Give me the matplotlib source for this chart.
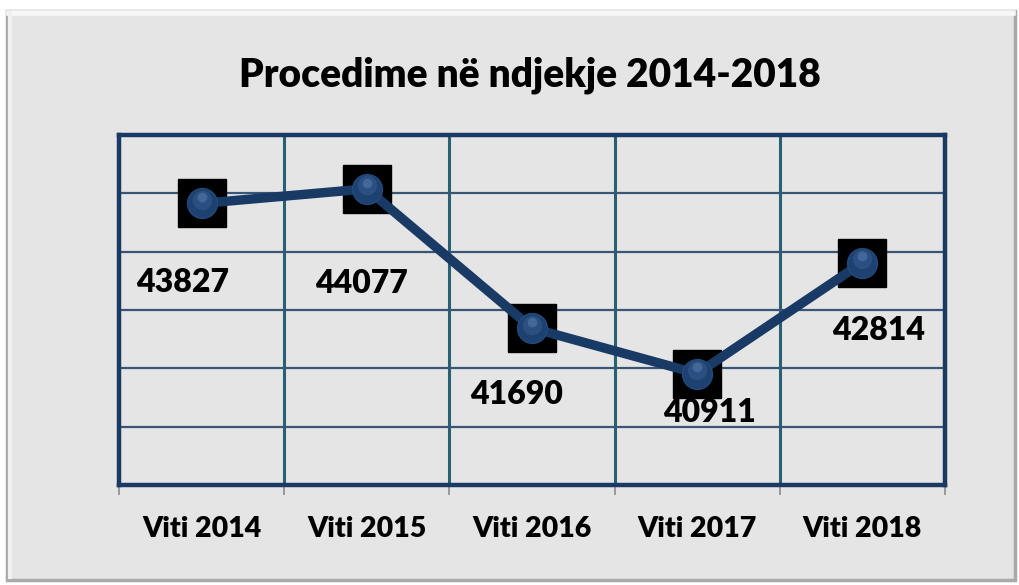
import matplotlib
matplotlib.use("Agg")
import matplotlib.pyplot as plt
import matplotlib.transforms as mtransforms
from matplotlib.patches import Rectangle
import numpy as np

plt.rcParams["font.family"] = ["Lato", "DejaVu Sans"]

years = ["Viti 2014", "Viti 2015", "Viti 2016", "Viti 2017", "Viti 2018"]
cases = [43827, 44077, 41690, 40911, 42814]
title = "Procedime në ndjekje 2014-2018"

# hand-placed data label offsets (points), as in the original chart
label_offsets = [(-14, -57), (-4, -68), (-11, -48), (9, -28), (12, -49)]

navy = "#1B3A63"
line_col = "#1A3A66"
weight = "heavy"

fig = plt.figure(figsize=(10.2, 5.85), dpi=100, facecolor="white")

# grey chart panel with a soft bevel
W, H = 1020, 585
panel = Rectangle((7 / W, 5 / H), 1008 / W, 569 / H, transform=fig.transFigure,
                  facecolor="#E5E5E5", edgecolor="#A9A9A9", linewidth=2.5, zorder=0)
fig.patches.append(panel)
fig.add_artist(plt.Line2D([9 / W, 1013 / W], [572 / H, 572 / H], transform=fig.transFigure,
                          color="#F8F8F8", lw=4, zorder=1))
fig.add_artist(plt.Line2D([10 / W, 10 / W], [8 / H, 572 / H], transform=fig.transFigure,
                          color="#F0F0F0", lw=3, zorder=1))

ax = fig.add_axes([119 / W, 100 / H, 826 / W, 350 / H])
ax.set_zorder(5)
ax.set_facecolor("#E5E5E5")
x = np.arange(len(years))

ax.set_xlim(-0.5, len(years) - 0.5)
ax.set_ylim(39000, 45000)
ax.set_yticks(np.arange(39000, 45001, 1000))
ax.set_yticklabels([])
ax.tick_params(axis="y", length=0)
ax.grid(axis="y", color="#3A5676", lw=1.6, zorder=1)

for b in np.arange(0.5, len(years) - 0.5, 1):
    ax.axvline(b, color="#2A6073", lw=2.2, zorder=1)

ax.set_xticks(x)
ax.set_xticklabels(years, fontsize=20.5, fontweight=weight)
ax.tick_params(axis="x", which="major", length=0, pad=22)
ax.set_xticks(np.arange(-0.5, len(years), 1), minor=True)
ax.tick_params(axis="x", which="minor", length=7, color="#8C8C8C", width=1.2)

for s in ax.spines.values():
    s.set_color(navy)
    s.set_linewidth(3.2)

# black square shadows, line, then blue spheres
ax.plot(x, cases, ls="none", marker="s", ms=35, color="black", mec="black", zorder=3)
ax.plot(x, cases, color=line_col, lw=6.8, solid_capstyle="round", zorder=4)
ax.plot(x, cases, ls="none", marker="o", ms=21.5, color="#1D4170", mec="#234A7C", mew=1, zorder=5)
hl = ax.transData + mtransforms.ScaledTranslation(0, 2.5 / 72, fig.dpi_scale_trans)
ax.plot(x, cases, ls="none", marker="o", ms=14, color="#30578A", mec="none", alpha=0.7,
        transform=hl, zorder=6)
hl2 = ax.transData + mtransforms.ScaledTranslation(0, 4.5 / 72, fig.dpi_scale_trans)
ax.plot(x, cases, ls="none", marker="o", ms=7, color="#5A7FAE", mec="none", alpha=0.5,
        transform=hl2, zorder=7)

for xi, v, off in zip(x, cases, label_offsets):
    ax.annotate(str(v), (xi, v), xytext=off, textcoords="offset points",
                ha="center", va="center", fontsize=23, fontweight=weight,
                color="black", zorder=8)

fig.text(530 / W, 1 - 75 / H, title, ha="center", va="center",
         fontsize=28, fontweight=weight, color="black")

fig.savefig("out.png", dpi=100, facecolor="white")
